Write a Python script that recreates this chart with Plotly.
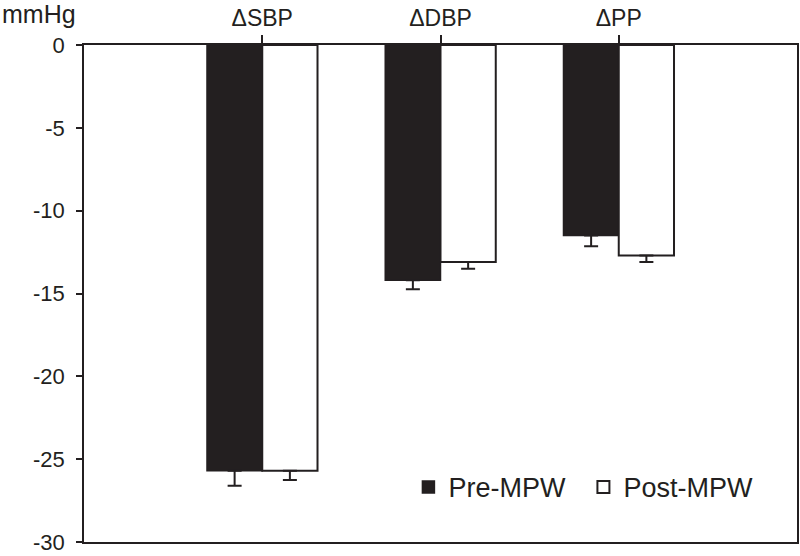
import plotly.graph_objects as go

categories = ["ΔSBP", "ΔDBP", "ΔPP"]
pre_mpw = [-25.7, -14.2, -11.5]
pre_err = [0.9, 0.55, 0.65]
post_mpw = [-25.7, -13.1, -12.7]
post_err = [0.55, 0.4, 0.4]
y_ticks = [0, -5, -10, -15, -20, -25, -30]
y_ticklabels = ["0", "-5", "-10", "-15", "-20", "-25", "-30"]

ink = "#231f20"

fig = go.Figure()
fig.add_trace(go.Bar(
    x=categories, y=pre_mpw, name="Pre-MPW",
    marker=dict(color=ink, line=dict(color=ink, width=1.5)),
    error_y=dict(type="data", symmetric=False, array=[0]*3, arrayminus=pre_err,
                 color=ink, thickness=2, width=7),
))
fig.add_trace(go.Bar(
    x=categories, y=post_mpw, name="Post-MPW",
    marker=dict(color="white", line=dict(color=ink, width=2)),
    error_y=dict(type="data", symmetric=False, array=[0]*3, arrayminus=post_err,
                 color=ink, thickness=2, width=7),
))

fig.update_layout(
    width=800, height=556,
    margin=dict(l=84, r=3, t=45, b=14),
    paper_bgcolor="white", plot_bgcolor="white",
    barmode="group", bargap=0.38, bargroupgap=0,
    font=dict(family="Liberation Sans, Arial, sans-serif", color=ink, size=22),
    xaxis=dict(
        type="category", side="top", range=[-1, 3], automargin=False,
        showline=True, linecolor=ink, linewidth=1.5, mirror=True,
        ticks="outside", ticklen=8, tickcolor=ink, tickwidth=1.5,
        tickfont=dict(size=23), showgrid=False, zeroline=False,
    ),
    yaxis=dict(
        range=[-30, 0], tickvals=y_ticks, ticktext=y_ticklabels, automargin=False,
        ticklabeloverflow="allow", ticklabelstandoff=7,
        showline=True, linecolor=ink, linewidth=1.5, mirror=True,
        ticks="outside", ticklen=6, tickcolor=ink, tickwidth=1.5,
        tickfont=dict(size=22), showgrid=False, zeroline=False,
    ),
    legend=dict(
        orientation="h", x=0.455, y=0.11, xanchor="left", yanchor="middle",
        font=dict(size=27), bgcolor="rgba(0,0,0,0)", traceorder="normal",
        entrywidth=130,
    ),
    annotations=[dict(
        text="mmHg", xref="paper", yref="paper", x=-0.118, y=1.0,
        yshift=31, xanchor="left", yanchor="middle", showarrow=False,
        font=dict(size=25),
    )],
)

fig.write_html("out.html", config={"displayModeBar": False},
               post_script="document.body.style.margin='0';document.body.style.overflow='hidden';")
